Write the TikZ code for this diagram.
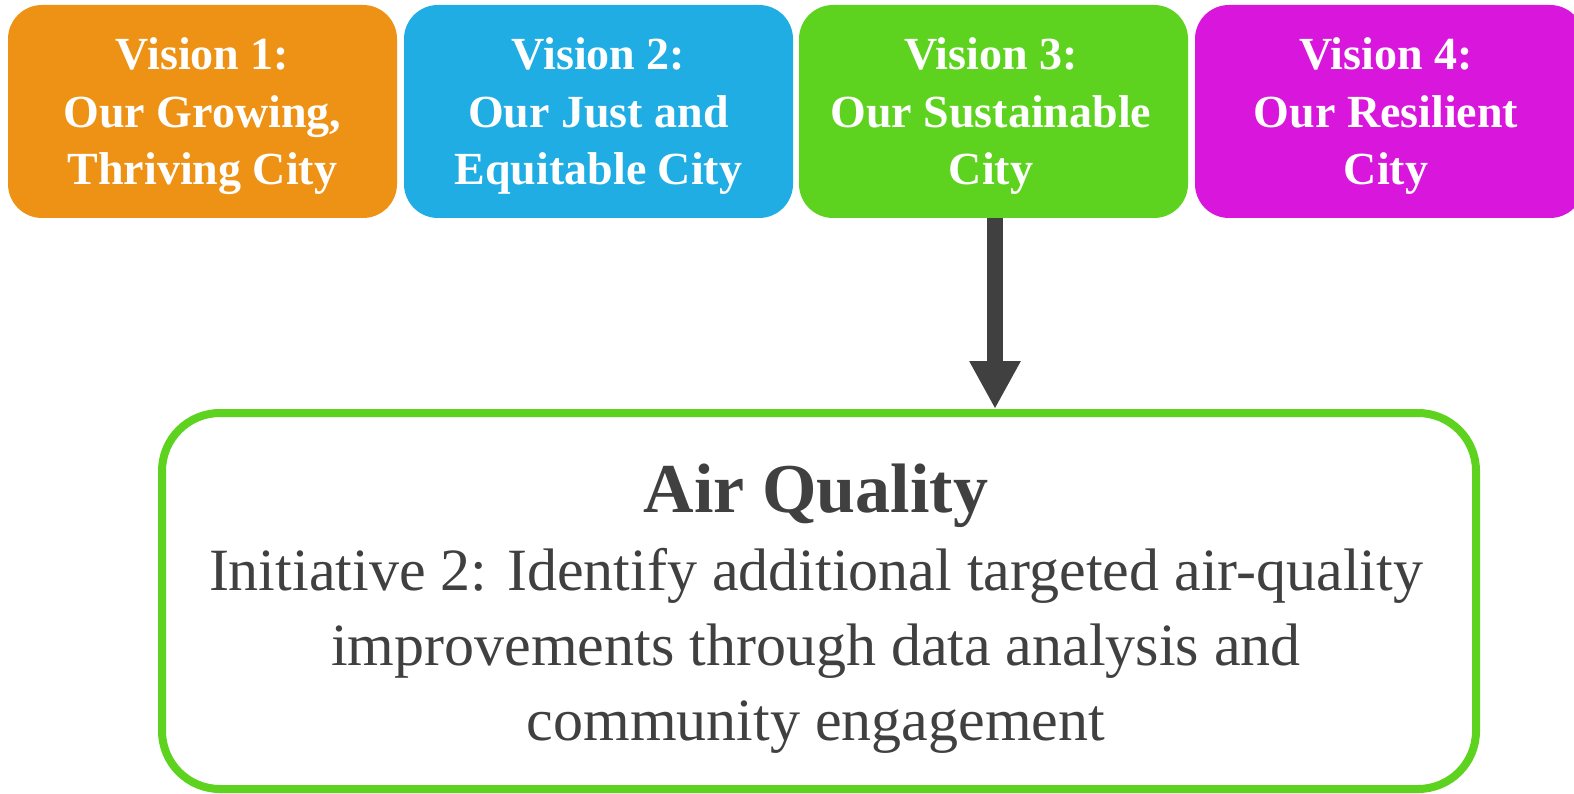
\documentclass[tikz,border=0pt]{standalone}
\usepackage{fontspec}
\setmainfont{Liberation Serif}
\usetikzlibrary{arrows.meta}
\definecolor{cOrange}{HTML}{EE9215}
\definecolor{cBlue}{HTML}{1FADE4}
\definecolor{cGreen}{HTML}{5ED31F}
\definecolor{cMagenta}{HTML}{D916DB}
\definecolor{cText}{HTML}{404040}
\tikzset{
  vision/.style={rounded corners=34pt, minimum width=389pt, minimum height=213pt,
    inner sep=0pt, outer sep=0pt},
  visiontext/.style={anchor=base, inner sep=0pt, text=white, align=center,
    font=\fontsize{46}{57.5}\selectfont\bfseries},
  bigbox/.style={draw=cGreen, line width=8pt, rounded corners=58pt, fill=white,
    minimum width=1314pt, minimum height=376pt, inner sep=0pt},
  titletext/.style={anchor=base, inner sep=0pt, text=cText, font=\fontsize{70}{80}\selectfont\bfseries},
  bodytext/.style={anchor=base, inner sep=0pt, text=cText, align=center, font=\fontsize{60}{75}\selectfont},
  thickarrow/.style={draw=cText, line width=16pt, -{Triangle[width=48pt,length=48pt]}}
}
\begin{document}
\begin{tikzpicture}[x=1pt,y=-1pt]
\useasboundingbox (0,0) rectangle (1574,794);
\node[vision, fill=cOrange] (v1) at (202.5,111.5) {};
\node[vision, fill=cBlue] (v2) at (598.5,111.5) {};
\node[vision, fill=cGreen] (v3) at (993.5,111.5) {};
\node[vision, fill=cMagenta] (v4) at (1389.5,111.5) {};
\node[visiontext] (t1) at (202.5,185) {Vision 1:\\Our Growing,\\Thriving City};
\node[visiontext] (t2) at (598.5,185) {Vision 2:\\Our Just and\\Equitable City};
\node[visiontext] (t3) at (991,185) {Vision 3:\\Our Sustainable\\City};
\node[visiontext] (t4) at (1386,185) {Vision 4:\\Our Resilient\\City};
\node[bigbox] (aq) at (819,601) {};
\node[titletext] (title) at (816,512) {Air Quality};
\node[bodytext] (body) at (816,740) {Initiative 2: Identify additional targeted air-quality\\
  improvements through data analysis and\\community engagement};
\draw[thickarrow] (v3.south -| 995,0) -- (aq.north -| 995,0);
\end{tikzpicture}
\end{document}
